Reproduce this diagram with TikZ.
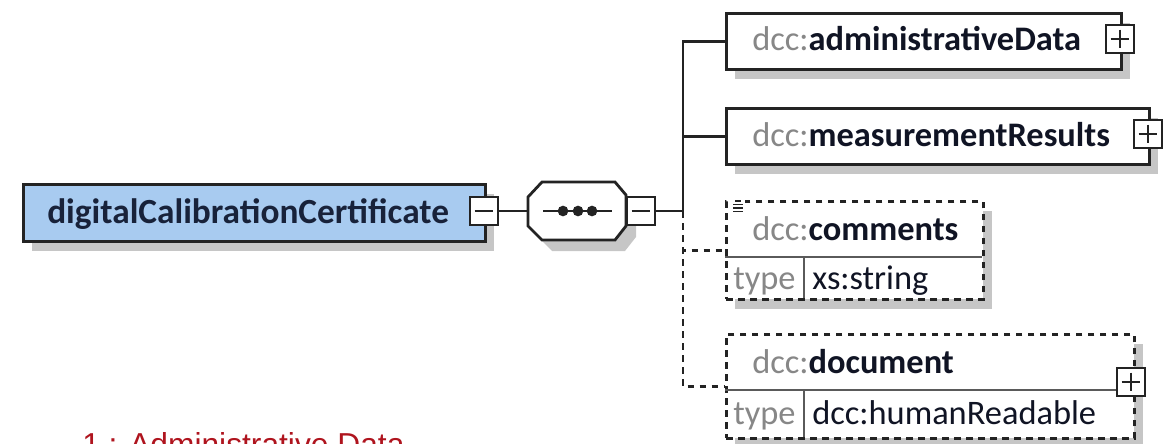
\documentclass[tikz,border=0pt]{standalone}
\usepackage{fontspec}
\newfontfamily\xf{Carlito}
\newfontfamily\capf{Liberation Sans}
\definecolor{rootblue}{RGB}{168,203,240}
\definecolor{shadowgrey}{RGB}{198,198,198}
\definecolor{edge}{RGB}{35,35,35}
\definecolor{prefix}{RGB}{135,135,135}
\definecolor{namecol}{RGB}{16,20,36}
\definecolor{rootname}{RGB}{24,34,58}
\definecolor{capred}{RGB}{175,20,30}
\tikzset{
  box/.style={draw=edge, fill=white, line width=2.1pt, rectangle, inner sep=0pt, anchor=north west},
  optbox/.style={box, dash pattern=on 5pt off 4pt},
  shadowfill/.style={fill=shadowgrey, draw=none},
  conn/.style={draw=edge, line width=1.9pt},
  optconn/.style={conn, dash pattern=on 5pt off 4pt},
  toggle/.style={draw=edge, fill=white, line width=1.8pt, minimum width=21pt, minimum height=21pt, inner sep=0pt},
  minustoggle/.style={toggle, path picture={\draw[line width=1.5pt, edge] ([xshift=3.5pt]path picture bounding box.west) -- ([xshift=-3.5pt]path picture bounding box.east);}},
  plustoggle/.style={toggle, path picture={\draw[line width=1.5pt, edge] ([xshift=3.5pt]path picture bounding box.west) -- ([xshift=-3.5pt]path picture bounding box.east) ([yshift=-3.5pt]path picture bounding box.north) -- ([yshift=3.5pt]path picture bounding box.south);}},
  lbl/.style={inner sep=0pt, anchor=base west, text=namecol, font={\xf\fontsize{25.8}{30}\selectfont}},
  divider/.style={draw=edge!75, line width=1.6pt}
}
\begin{document}
\begin{tikzpicture}[x=0.75pt,y=-0.75pt]
\useasboundingbox (0,0) rectangle (1173,443);
\clip (0,0) rectangle (1173,443);

% ---------- shadows ----------
\fill[shadowfill] (32,194) rectangle (494,251);
\fill[shadowfill, shift={(10,11)}] (528,197) -- (542,182) -- (615,182) -- (626,195) -- (626,226) -- (615,240) -- (542,240) -- (528,226) -- cycle;
\fill[shadowfill] (735,23) rectangle (1130,79);
\fill[shadowfill] (735,118) rectangle (1158,174);
\fill[shadowfill] (735,211) rectangle (992,309);
\fill[shadowfill] (735,344) rectangle (1143,448);

% ---------- root element ----------
\node[box, fill=rootblue, minimum width=0.75*462pt, minimum height=0.75*57pt] (root) at (22,183) {};
\node[lbl, text=rootname, font={\xf\bfseries\fontsize{26.5}{30}\selectfont}] (roottxt) at (47,223) {digitalCalibrationCertificate};
\node[minustoggle] (rootmin) at (484,211) {};

% ---------- sequence compositor ----------
\draw[draw=edge, fill=white, line width=2.1pt] (528,197) -- (542,182) -- (615,182) -- (626,195) -- (626,226) -- (615,240) -- (542,240) -- (528,226) -- cycle;
\coordinate (seqW) at (528,211);
\coordinate (seqL) at (543,211);
\coordinate (seqR) at (612,211);
\draw[conn] (seqL) -- (seqR);
\fill[edge] (563,211) circle[radius=4pt];
\fill[edge] (578,211) circle[radius=4pt];
\fill[edge] (592,211) circle[radius=4pt];
\node[minustoggle] (seqmin) at (641,211) {};
\coordinate (bus) at (683,211);

% ---------- children ----------
\node[box, minimum width=0.75*395pt, minimum height=0.75*56pt] (admin) at (725,12) {};
\node[lbl] (admintxt) at (752,50) {\textcolor{prefix}{dcc:}\textbf{administrativeData}};
\node[plustoggle] (adminplus) at (1120,39) {};

\node[box, minimum width=0.75*423pt, minimum height=0.75*56pt] (meas) at (725,107) {};
\node[lbl] (meastxt) at (752,146) {\textcolor{prefix}{dcc:}\textbf{measurementResults}};
\node[plustoggle] (measplus) at (1148,134) {};

\node[optbox, minimum width=0.75*257pt, minimum height=0.75*98pt] (comm) at (725,200) {};
\coordinate (commdivL) at (725,257);
\coordinate (commdivR) at (982,257);
\coordinate (commtypeT) at (804,257);
\coordinate (commtypeB) at (804,298);
\draw[divider] (commdivL) -- (commdivR);
\draw[divider] (commtypeT) -- (commtypeB);
\node[lbl] (commtxt) at (752,240) {\textcolor{prefix}{dcc:}\textbf{comments}};
\node[lbl, text=prefix] (commtype) at (733,289) {type};
\node[lbl] (commtypeval) at (812,289) {xs:string};
\fill[white] (731,198) rectangle (745,215);
\draw[edge, line width=1pt] (735,201) -- (741,201) (733,204.5) -- (743,204.5) (733,208) -- (743,208) (733,211.5) -- (743,211.5);

\node[optbox, minimum width=0.75*408pt, minimum height=0.75*104pt] (doc) at (725,333) {};
\coordinate (docdivL) at (725,390);
\coordinate (docdivR) at (1133,390);
\coordinate (doctypeT) at (804,390);
\coordinate (doctypeB) at (804,437);
\draw[divider] (docdivL) -- (docdivR);
\draw[divider] (doctypeT) -- (doctypeB);
\node[lbl] (doctxt) at (752,373) {\textcolor{prefix}{dcc:}\textbf{document}};
\node[lbl, text=prefix] (doctype) at (733,424) {type};
\node[lbl] (doctypeval) at (812,424) {dcc:humanReadable};
\node[plustoggle] (docplus) at (1131,382) {};

% ---------- connectors ----------
\draw[conn] (rootmin.east) -- (seqW);
\draw[conn] (seqmin.east) -- (bus);
\draw[conn] (bus) |- (admin.west);
\draw[conn] (bus) |- (meas.west);
\draw[optconn] (bus) |- (comm.west);
\draw[optconn] (bus) |- (doc.west);

% ---------- caption ----------
\node[anchor=base west, inner sep=0pt, text=capred, font={\capf\fontsize{23.8}{28}\selectfont}] (caption) at (82,455) {1 : Administrative Data};
\end{tikzpicture}
\end{document}
